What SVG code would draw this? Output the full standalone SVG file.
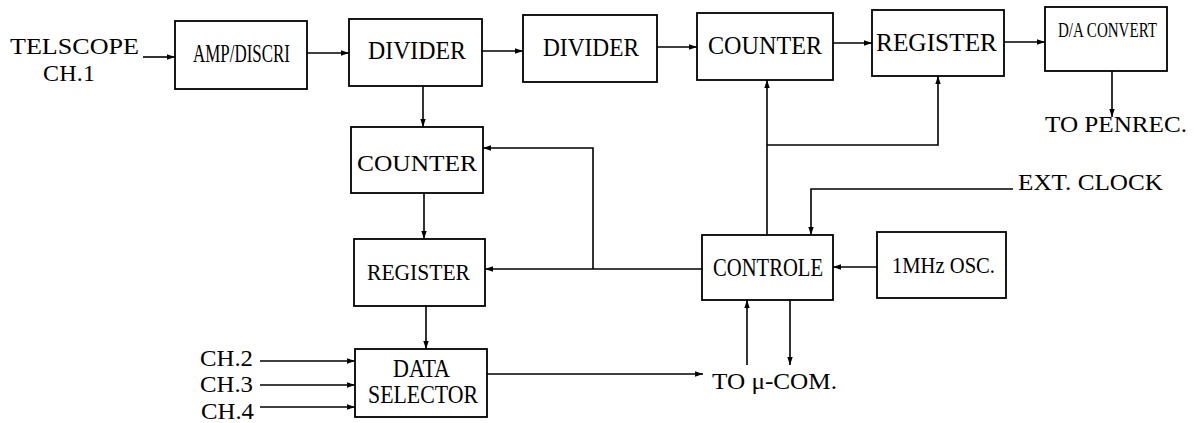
<svg xmlns="http://www.w3.org/2000/svg" width="1194" height="423" viewBox="0 0 1194 423">
<style>
.box{fill:#fff;stroke:#000;stroke-width:1.8}
.ln{fill:none;stroke:#000;stroke-width:1.6}
text{font-family:"Liberation Serif","Times New Roman",serif;fill:#000}
.t{font-size:24px}
.c{font-size:25px}
</style>
<defs>
<marker id="ah" markerUnits="userSpaceOnUse" markerWidth="9" markerHeight="7" refX="8" refY="3.5" orient="auto">
<path d="M0,0.8 L8,3.5 L0,6.2 z" fill="#000"/>
</marker>
</defs>
<rect width="1194" height="423" fill="#fff"/>
<g id="connectors">
<path class="ln" d="M143,57 H175" marker-end="url(#ah)"/>
<path class="ln" d="M307,53 H349" marker-end="url(#ah)"/>
<path class="ln" d="M482,51 H523" marker-end="url(#ah)"/>
<path class="ln" d="M657,47 H697" marker-end="url(#ah)"/>
<path class="ln" d="M833,43 H872" marker-end="url(#ah)"/>
<path class="ln" d="M1004,42 H1045" marker-end="url(#ah)"/>
<path class="ln" d="M1112,71 V117" marker-end="url(#ah)"/>
<path class="ln" d="M423,86 V127" marker-end="url(#ah)"/>
<path class="ln" d="M424,193 V239" marker-end="url(#ah)"/>
<path class="ln" d="M426,306 V349" marker-end="url(#ah)"/>
<path class="ln" d="M702,269 H485" marker-end="url(#ah)"/>
<path class="ln" d="M593,269 V148 H483" marker-end="url(#ah)"/>
<path class="ln" d="M767,235 V80" marker-end="url(#ah)"/>
<path class="ln" d="M767,145 H938 V76" marker-end="url(#ah)"/>
<path class="ln" d="M1013,189 H811 V235" marker-end="url(#ah)"/>
<path class="ln" d="M877,267 H833" marker-end="url(#ah)"/>
<path class="ln" d="M747,365 V300" marker-end="url(#ah)"/>
<path class="ln" d="M790,300 V365" marker-end="url(#ah)"/>
<path class="ln" d="M487,374 H703" marker-end="url(#ah)"/>
<path class="ln" d="M260,361 H355" marker-end="url(#ah)"/>
<path class="ln" d="M260,385 H355" marker-end="url(#ah)"/>
<path class="ln" d="M260,407 H355" marker-end="url(#ah)"/>
</g>
<g id="telscope"><text class="t" x="10" y="54" textLength="129" lengthAdjust="spacingAndGlyphs">TELSCOPE</text><text class="t" x="43" y="81" textLength="52">CH.1</text></g>
<g id="amp"><rect class="box" x="175" y="21" width="132" height="68"/><text style="font-size:26px" x="193" y="62" textLength="97" lengthAdjust="spacingAndGlyphs">AMP/DISCRI</text></g>
<g id="divider1"><rect class="box" x="349" y="19" width="133" height="67"/><text class="c" x="368" y="59" textLength="98" lengthAdjust="spacingAndGlyphs">DIVIDER</text></g>
<g id="divider2"><rect class="box" x="523" y="15" width="134" height="67"/><text class="c" x="543" y="56" textLength="96" lengthAdjust="spacingAndGlyphs">DIVIDER</text></g>
<g id="counter1"><rect class="box" x="697" y="13" width="136" height="67"/><text class="c" x="708" y="54" textLength="114" lengthAdjust="spacingAndGlyphs">COUNTER</text></g>
<g id="register1"><rect class="box" x="872" y="10" width="132" height="66"/><text class="c" x="876" y="51" textLength="121" lengthAdjust="spacingAndGlyphs">REGISTER</text></g>
<g id="daconvert"><rect class="box" x="1045" y="7" width="122" height="64"/><text style="font-size:21px" x="1058" y="37" textLength="99" lengthAdjust="spacingAndGlyphs">D/A CONVERT</text></g>
<g id="penrec"><text class="t" x="1045" y="132" textLength="142" lengthAdjust="spacingAndGlyphs">TO PENREC.</text></g>
<g id="counter2"><rect class="box" x="351" y="127" width="132" height="66"/><text class="t" x="357" y="171" textLength="120" lengthAdjust="spacingAndGlyphs">COUNTER</text></g>
<g id="register2"><rect class="box" x="354" y="239" width="131" height="67"/><text class="t" x="367" y="280" textLength="103" lengthAdjust="spacingAndGlyphs">REGISTER</text></g>
<g id="dataselector"><rect class="box" x="355" y="349" width="132" height="68"/><text class="c" x="393" y="377" textLength="57" lengthAdjust="spacingAndGlyphs">DATA</text><text class="c" x="368" y="403" textLength="110" lengthAdjust="spacingAndGlyphs">SELECTOR</text></g>
<g id="controle"><rect class="box" x="702" y="235" width="131" height="65"/><text class="c" x="713" y="276" textLength="110" lengthAdjust="spacingAndGlyphs">CONTROLE</text></g>
<g id="osc"><rect class="box" x="877" y="232" width="129" height="66"/><text style="font-size:24px" x="892" y="273" textLength="103" lengthAdjust="spacingAndGlyphs">1MHz OSC.</text></g>
<g id="extclock"><text class="t" x="1018" y="190" textLength="145" lengthAdjust="spacingAndGlyphs">EXT. CLOCK</text></g>
<g id="ucom"><text class="t" x="712" y="389" textLength="125" lengthAdjust="spacingAndGlyphs">TO μ-COM.</text></g>
<g id="ch2"><text class="t" x="200" y="366" textLength="53" lengthAdjust="spacingAndGlyphs">CH.2</text></g>
<g id="ch3"><text class="t" x="200" y="392" textLength="53" lengthAdjust="spacingAndGlyphs">CH.3</text></g>
<g id="ch4"><text class="t" x="201" y="419" textLength="53" lengthAdjust="spacingAndGlyphs">CH.4</text></g>
</svg>
